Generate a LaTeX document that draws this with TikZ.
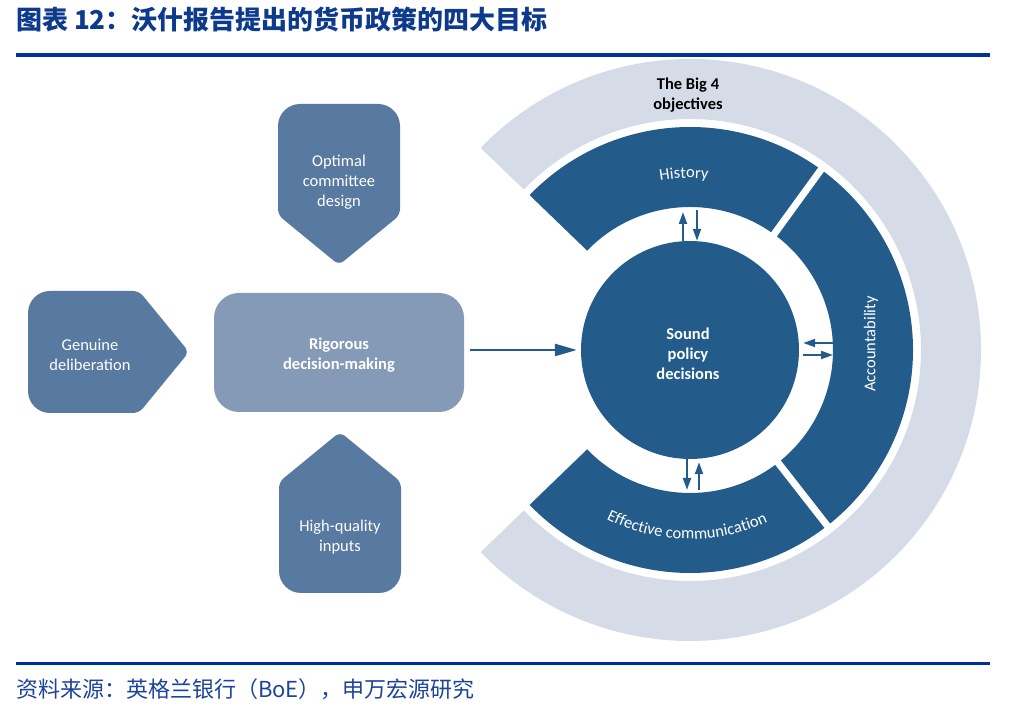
\documentclass[tikz,border=0pt]{standalone}
\usepackage{fontspec}
\setmainfont{Carlito}
\newfontfamily\cjk{Noto Sans CJK SC}
\usetikzlibrary{arrows.meta,decorations.text}
\definecolor{deep}{HTML}{235C8A}
\definecolor{mid}{HTML}{5879A0}
\definecolor{pale}{HTML}{849AB7}
\definecolor{ring}{HTML}{D5DCE8}
\definecolor{rulecol}{HTML}{003399}
\definecolor{headcol}{HTML}{0D3A8C}
\definecolor{srccol}{HTML}{1C449C}
\newcommand\labfont{\fontsize{16.5}{20}\selectfont}
\begin{document}
\begin{tikzpicture}[x=1pt,y=1pt,line
				join=round,font=\labfont,>={Triangle[length=12pt,width=8pt]}]
				\def\ri{143}
				\def\ro{223}
				\def\gi{231}
				\def\go{291}
				\useasboundingbox (0,0) rectangle (1025,711);
				\node[anchor=west,inner sep=0,text=headcol,font=\cjk\bfseries\fontsize{26}{30}\selectfont] (T) at (16,691) {图表 12：沃什报告提出的货币政策的四大目标};
				\draw[rulecol,line width=3.3pt] (16,656)--(990,656);
				\draw[rulecol,line width=3pt] (16,47.5)--(990,47.5);
				\node[anchor=west,inner sep=0,text=srccol,font=\cjk\fontsize{22}{26}\selectfont] (F) at (16,22) {资料来源：英格兰银行（BoE），申万宏源研究};
				\begin{scope}[shift={(690,361)}]
				\fill[ring] (136:\go) arc (136:-136:\go)--(-136:\gi) arc
				(-136:136:\gi)--cycle;
				\foreach\a/\b in {136/54,54/-52,-52/-136}
				{\fill[deep] (\a:\ro) arc (\a:\b:\ro)--(\b:\ri) arc (\b:\a:\ri)--cycle;}
				\foreach\a in {54,-52}
				{\draw[white,line width=7pt] (\a:138)--(\a:228);}
				\path[decorate,decoration={text along path,text align=center,
				text={|\labfont\color{white}|History}}] (122:172) arc (122:62:172);
				\path[decorate,decoration={text along path,text align=center,
				text={|\labfont\color{white}|Effective communication}}] (-131:189) arc (-131:-51:189);
				\end{scope}
				\foreach\x/\y/\r in {339/446/0,189/359/90,340/279/180}
				{\fill[mid,shift={(\x,\y)},rotate=\r] (0,0) [rounded corners=6pt]--(-61,50)
				[rounded corners=22pt]--(-61,161)--(61,161)[rounded corners=6pt]--(61,50)--cycle;}
				\node[circle,fill=deep,minimum size=218pt,inner sep=0] (S) at (690,361) {};
				\node[align=center,text=white,font=\labfont\bfseries] (P) at (688,357) {Sound\\policy\\decisions};
				\node[rounded corners=25pt,fill=pale,minimum width=250pt,minimum height=119pt,align=center,text=white,font=\labfont\bfseries] (R) at (339,358.5) {\\[-3pt]Rigorous\\decision-making};
				\node[text=white,align=center] (D) at (339,529) {Optimal\\committee\\design};
				\node[text=white,align=center] (G) at (90,356) {Genuine\\deliberation};
				\node[text=white,align=center] (Q) at (340,174) {High-quality\\inputs};
				\node[text=white,rotate=90] (C) at (871,367) {Accountability};
				\node[align=center,font=\labfont\bfseries] (B) at (688,616) {The Big 4\\objectives};
				\path (690,504) coordinate (H)
				(690,218) coordinate (E)
				(833,361) coordinate (A);
				\begin{scope}[deep,line width=2pt]
				\draw[->,shorten >=5pt] ([xshift=-7pt]S.north)--([xshift=-7pt]H);
				\draw[->,shorten <=3pt] ([xshift=7pt]H)--([xshift=7pt]S.north);
				\draw[->,shorten >=3pt] ([xshift=-3pt]S.south)--([xshift=-3pt]E);
				\draw[->,shorten <=3pt,shorten >=3pt] ([xshift=9pt]E)--([xshift=9pt]S.south);
				\draw[->,shorten >=4pt] ([yshift=7pt]A)--([yshift=7pt]S.east);
				\draw[->,shorten <=4pt] ([yshift=-5pt]S.east)--([yshift=-5pt]A);
				\draw[->,line width=2.5pt,shorten <=6pt,shorten >=4pt,>={Triangle[length=22pt,width=12pt]}] (R.east |- S.west)--(S.west);
				\end{scope}
			\end{tikzpicture}
\end{document}
